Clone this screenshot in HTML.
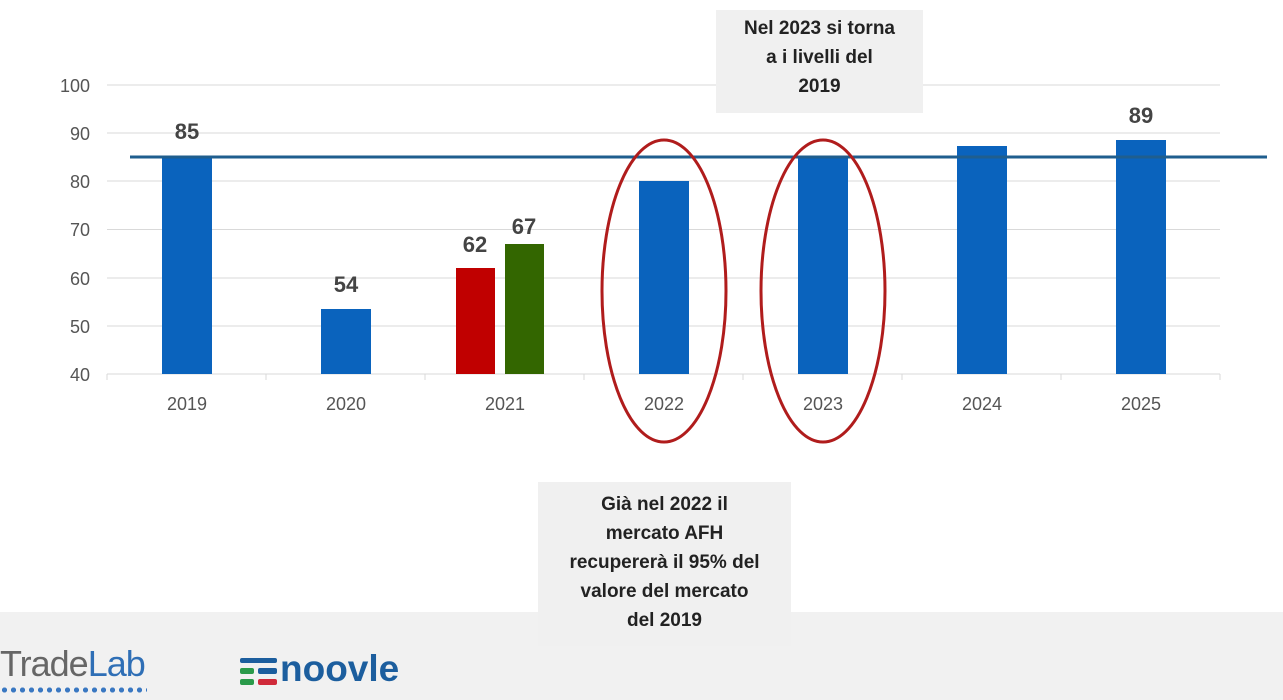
<!DOCTYPE html>
<html><head><meta charset="utf-8"><style>
body{margin:0;width:1283px;height:700px;background:#fff;overflow:hidden;font-family:"Liberation Sans",sans-serif;position:relative}
.box{position:absolute;background:#f0f0f0;font-weight:bold;font-size:19px;line-height:29px;text-align:center;color:#222}
</style></head><body>
<div style="position:absolute;left:0;top:612px;width:1283px;height:88px;background:#f1f1f1"></div>
<svg width="1283" height="700" style="position:absolute;left:0;top:0" font-family="Liberation Sans, sans-serif">
<g stroke="#d9d9d9" stroke-width="1">
<line x1="107" x2="1220" y1="85" y2="85"/><line x1="107" x2="1220" y1="133" y2="133"/><line x1="107" x2="1220" y1="181" y2="181"/><line x1="107" x2="1220" y1="229.5" y2="229.5"/><line x1="107" x2="1220" y1="278" y2="278"/><line x1="107" x2="1220" y1="326" y2="326"/><line x1="107" x2="1220" y1="374" y2="374"/>
<line x1="107" x2="107" y1="374" y2="380"/><line x1="266" x2="266" y1="374" y2="380"/><line x1="425" x2="425" y1="374" y2="380"/><line x1="584" x2="584" y1="374" y2="380"/><line x1="743" x2="743" y1="374" y2="380"/><line x1="902" x2="902" y1="374" y2="380"/><line x1="1061" x2="1061" y1="374" y2="380"/><line x1="1220" x2="1220" y1="374" y2="380"/>
</g>
<g font-size="18" fill="#555" text-anchor="end">
<text x="90" y="92">100</text><text x="90" y="140">90</text><text x="90" y="188">80</text><text x="90" y="236">70</text><text x="90" y="285">60</text><text x="90" y="333">50</text><text x="90" y="381">40</text></g>
<g font-size="18" fill="#555" text-anchor="middle">
<text x="187" y="410">2019</text><text x="346" y="410">2020</text><text x="505" y="410">2021</text><text x="664" y="410">2022</text><text x="823" y="410">2023</text><text x="982" y="410">2024</text><text x="1141" y="410">2025</text></g>
<g fill="#0a63bd">
<rect x="162" y="157" width="50" height="217"/><rect x="321" y="309" width="50" height="65"/><rect x="639" y="181" width="50" height="193"/><rect x="798" y="157" width="50" height="217"/><rect x="957" y="146" width="50" height="228"/><rect x="1116" y="140" width="50" height="234"/></g>
<rect x="456" y="268" width="39" height="106" fill="#c00000"/>
<rect x="505" y="244" width="39" height="130" fill="#336600"/>
<line x1="130" x2="1267" y1="157" y2="157" stroke="#1f5e8e" stroke-width="3"/>
<g font-size="22" font-weight="bold" fill="#444" text-anchor="middle">
<text x="187" y="139">85</text><text x="346" y="292">54</text><text x="475" y="252">62</text><text x="524" y="234">67</text><text x="1141" y="123">89</text></g>
<g fill="none" stroke="#b01c1c" stroke-width="3">
<ellipse cx="664" cy="291" rx="62" ry="151"/><ellipse cx="823" cy="291" rx="62" ry="151"/></g>
</svg>
<div class="box" style="left:716px;top:10px;width:207px;height:103px;padding-top:4px;box-sizing:border-box">Nel 2023 si torna<br>a i livelli del<br>2019</div>
<div class="box" style="left:538px;top:482px;width:253px;height:164px;padding-top:8px;box-sizing:border-box">Già nel 2022 il<br>mercato AFH<br>recupererà il 95% del<br>valore del mercato<br>del 2019</div>
<div style="position:absolute;left:0;top:643px;font-size:36px;color:#666;letter-spacing:-1px">Trade<span style="color:#2f6fb6">Lab</span></div>
<div style="position:absolute;left:0;top:686px;width:147px;height:8px;background:radial-gradient(circle,#3a78c2 40%,transparent 45%) 0 0/9px 8px"></div>
<div style="position:absolute;left:240px;top:658px">
<div style="position:absolute;left:0;top:0;width:37px;height:5px;background:#1c5e9e;border-radius:2px"></div>
<div style="position:absolute;left:0;top:10px;width:14px;height:6px;background:#2a9a4a;border-radius:2px"></div>
<div style="position:absolute;left:18px;top:10px;width:19px;height:6px;background:#1c5e9e;border-radius:2px"></div>
<div style="position:absolute;left:0;top:21px;width:14px;height:6px;background:#2a9a4a;border-radius:2px"></div>
<div style="position:absolute;left:18px;top:21px;width:19px;height:6px;background:#d02a3a;border-radius:2px"></div>
</div>
<div style="position:absolute;left:280px;top:648px;font-size:37px;font-weight:bold;color:#1c5e9e">noovle</div>
</body></html>
